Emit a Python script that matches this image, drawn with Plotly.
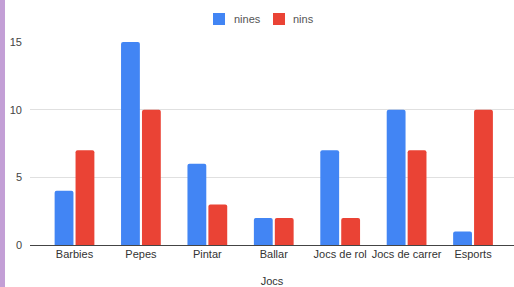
import plotly.graph_objects as go

categories = ["Barbies", "Pepes", "Pintar", "Ballar", "Jocs de rol", "Jocs de carrer", "Esports"]
nines = [4, 15, 6, 2, 7, 10, 1]
nins = [7, 10, 3, 2, 2, 7, 10]
y_ticks = [0, 5, 10, 15]
series_names = ["nines", "nins"]
series_colors = ["#4285f4", "#ea4335"]

W, H = 514, 287
ml, mr, mt, mb = 30, 0, 42, 42
pw = W - ml - mr
ph = H - mt - mb

def px_x(p):
    return (p - ml) / pw

def px_y(p):
    return 1 - (p - mt) / ph

fig = go.Figure()
for name, vals, col in zip(series_names, [nines, nins], series_colors):
    fig.add_trace(go.Bar(name=name, x=categories, y=vals, hoverinfo="skip",
                         marker=dict(color=col, line=dict(width=0), cornerradius=2),
                         showlegend=False))

# manual legend (matches compact spacing of the reference)
shapes = [dict(type="rect", xref="paper", yref="paper",
               x0=-ml / pw, x1=px_x(5), y0=px_y(H), y1=px_y(0),
               fillcolor="#c39fd6", line=dict(width=0), layer="above")]
annotations = []
leg_items = [(213, 232), (273, 291)]
for (sx, tx), name, col in zip(leg_items, series_names, series_colors):
    shapes.append(dict(type="rect", xref="paper", yref="paper",
                       x0=px_x(sx), x1=px_x(sx + 12), y0=px_y(25), y1=px_y(13),
                       fillcolor=col, line=dict(width=0)))
    annotations.append(dict(text=name, xref="paper", yref="paper", x=px_x(tx), y=px_y(19),
                            xanchor="left", yanchor="middle", showarrow=False,
                            font=dict(size=11, color="#555")))

fig.update_layout(
    width=W, height=H,
    margin=dict(l=ml, r=mr, t=mt, b=mb, autoexpand=False),
    paper_bgcolor="white", plot_bgcolor="white",
    barmode="group", bargap=0.37, bargroupgap=0.1,
    font=dict(family="Arial, 'Liberation Sans', sans-serif", size=11, color="#333"),
    showlegend=False,
    xaxis=dict(range=[-0.67, 6.617], showgrid=False, ticks="", showline=False, zeroline=False,
               tickfont=dict(size=11, color="#333"), ticklabelstandoff=1, automargin=False,
               title=dict(text="Jocs", font=dict(size=11, color="#333"), standoff=19)),
    yaxis=dict(range=[0, 15], tickvals=y_ticks, showgrid=True, gridcolor="#e0e0e0", gridwidth=1,
               zeroline=True, zerolinecolor="#444", zerolinewidth=1, ticks="",
               tickfont=dict(size=11, color="#444"), ticklabelstandoff=7, automargin=False),
    shapes=shapes,
    annotations=annotations,
)

fig.write_html("out.html", config={"displayModeBar": False},
               post_script="document.body.style.margin='0';document.body.style.overflow='hidden';")
